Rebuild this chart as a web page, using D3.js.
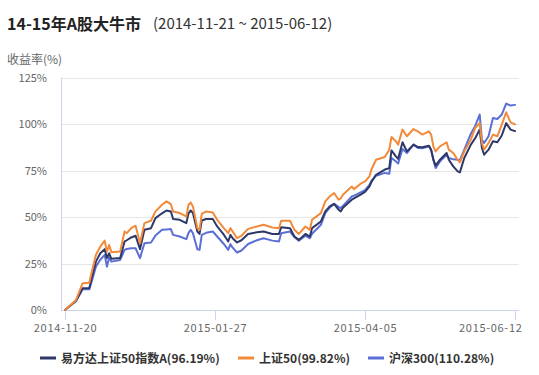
<!DOCTYPE html>
<html>
<head>
<meta charset="utf-8">
<script src="https://cdn.jsdelivr.net/npm/d3@7"></script>
<style>
  html, body { margin: 0; padding: 0; background: #fff; }
  svg { display: block; }
  text { font-family: "Noto Sans CJK SC", "Noto Sans", "DejaVu Sans", sans-serif; }
</style>
</head>
<body>
<svg id="chart" width="539" height="375"></svg>
<script>
const dates = ["2014-11-20","2014-11-25","2014-11-28","2014-12-01","2014-12-02","2014-12-04","2014-12-06","2014-12-08","2014-12-09","2014-12-10",
"2014-12-11","2014-12-15","2014-12-17","2014-12-18","2014-12-20","2014-12-22","2014-12-24","2014-12-26","2014-12-29","2014-12-31",
"2015-01-03","2015-01-05","2015-01-07","2015-01-08","2015-01-11","2015-01-14","2015-01-15","2015-01-16","2015-01-17","2015-01-19",
"2015-01-20","2015-01-21","2015-01-23","2015-01-26","2015-01-28","2015-01-31","2015-02-02","2015-02-03","2015-02-04","2015-02-06",
"2015-02-08","2015-02-11","2015-02-15","2015-02-18","2015-02-22","2015-02-25","2015-02-26","2015-03-02","2015-03-04","2015-03-06",
"2015-03-09","2015-03-11","2015-03-12","2015-03-16","2015-03-18","2015-03-20","2015-03-22","2015-03-24","2015-03-25","2015-03-26",
"2015-03-30","2015-03-31","2015-04-03","2015-04-05","2015-04-07","2015-04-08","2015-04-10","2015-04-14","2015-04-16","2015-04-17",
"2015-04-19","2015-04-20","2015-04-22","2015-04-24","2015-04-27","2015-04-29","2015-05-01","2015-05-04","2015-05-05","2015-05-06",
"2015-05-07","2015-05-09","2015-05-12","2015-05-13","2015-05-15","2015-05-17","2015-05-18","2015-05-20","2015-05-23","2015-05-25",
"2015-05-27","2015-05-28","2015-05-29","2015-05-31","2015-06-02","2015-06-04","2015-06-06","2015-06-08","2015-06-10","2015-06-12"];

const fundA = [0,5.0,11.7,11.7,16.5,26,30.5,32.7,27.9,30.5,
27.5,27.9,36.8,37.5,39,39.9,32.7,43.1,44,49.4,
52,53.5,53,48.9,48.5,46.7,52,53.5,52.1,42.2,
40.9,48.1,48.9,48.9,44.9,40.5,36.8,40.4,38.6,36.3,
37.5,40.9,41.8,42.2,40.9,40.9,44.5,44,39.5,37.7,
40.9,39.5,44,47.6,53,55.7,57.1,54,53,55,
59.3,60,62,63.5,66.4,69,72.7,75.5,76.3,85.8,
82.6,81.2,90.2,85.3,88.9,87.6,87.5,88.3,86,80.8,
77.6,80.8,84.4,80.8,77.2,74.5,74,81.7,88.9,92.5,
97,87.1,83.5,86.2,90.7,90.2,93.8,100.5,97,96.19];

const sz50 = [0,5.4,14.4,14.7,19.8,29.6,34.1,37.3,31.4,35,
31.1,31.4,42.2,41.3,44,45.3,35.9,46.7,48,53,
56.6,58.4,56.9,53,52.1,50.3,56.6,57.8,55.7,44,
43.1,51.7,53,52.4,48.5,44,41.3,44,42.2,38.6,
39.9,43.6,44.9,45.8,44.4,44,48,48,43.1,40.9,
44.9,43.1,48.5,52.1,58.4,61,62.9,59.3,60,62,
66.4,65,67.9,69.1,71.8,75.8,80.8,82.3,86.2,93,
90.7,88.9,97,93.4,97.3,96,94.3,96,94.3,88,
85.3,88,90.2,86.2,84.4,80.8,79.3,85.3,91.6,98,
100.5,89.8,86.2,89.8,94.3,93.4,99.7,106.3,100.9,99.82];

const hs300 = [0,4.8,11.1,11.1,15,23.3,27,29.6,23.3,28.2,
26,26.9,32.3,32.8,33.2,33.2,27.9,35.9,36.3,40,
43.1,43.3,43.5,40.4,39.5,38.1,41.5,43.1,41.3,32.7,
32.3,40.4,41.5,42.2,39.5,35.5,32.3,35.4,33.5,30.9,
32,35.5,37.5,38.6,37.3,36.8,41.3,42.2,39.2,37.3,
39.9,38.6,41,45.8,52.1,55,57.1,55.5,54.8,56,
61,61.5,63.2,64.5,67.3,69.5,72.2,73.7,73.3,81.7,
79.9,78.7,86.6,84.4,88.9,87.1,87,88,86,80.8,
76.3,79.9,83.5,81.7,81,80.8,80.4,86.2,94.8,99.1,
105.1,91.6,89.8,93.4,103.2,102.7,105.1,111,109.9,110.28];

const seriesNames = ["易方达上证50指数A(96.19%)", "上证50(99.82%)", "沪深300(110.28%)"];
const seriesColors = ["#2e3868", "#f28a3a", "#5b6fd6"];
const yTicks = [0, 25, 50, 75, 100, 125];
const xTickLabels = ["2014-11-20", "2015-01-27", "2015-04-05", "2015-06-12"];

const parse = d3.timeParse("%Y-%m-%d");
const svg = d3.select("#chart");

const plotLeft = 61, plotRight = 519, plotTop = 77.5, plotBottom = 310;
const x = d3.scaleTime()
  .domain([parse("2014-11-20"), parse("2015-06-12")])
  .range([65, 515]);
const y = d3.scaleLinear().domain([0, 125]).range([plotBottom, plotTop]);

// Title
svg.append("text").attr("x", 7).attr("y", 30)
  .attr("font-size", 16).attr("font-weight", "bold").attr("fill", "#222")
  .text("14-15年A股大牛市");
svg.append("text").attr("x", 153).attr("y", 29)
  .attr("font-size", 15).attr("fill", "#333")
  .text("(2014-11-21 ~ 2015-06-12)");

// Y axis title
svg.append("text").attr("x", 7).attr("y", 64)
  .attr("font-size", 12).attr("fill", "#666")
  .text("收益率(%)");

// Grid
svg.append("g").selectAll("line").data(yTicks.filter(d => d > 0)).join("line")
  .attr("x1", plotLeft).attr("x2", plotRight)
  .attr("y1", d => Math.round(y(d)) + 0.5).attr("y2", d => Math.round(y(d)) + 0.5)
  .attr("stroke", "#e6e6e6").attr("stroke-width", 1);

// Y axis line
svg.append("line").attr("x1", plotLeft + 0.5).attr("x2", plotLeft + 0.5)
  .attr("y1", plotTop).attr("y2", plotBottom)
  .attr("stroke", "#ccd6eb");

// Y labels
const yAxis = d3.axisLeft(y).tickValues(yTicks).tickSize(0).tickPadding(0).tickFormat(d => d + "%");
const gy = svg.append("g").attr("transform", `translate(47,0)`).call(yAxis);
gy.select(".domain").remove();
gy.selectAll("text").attr("font-size", 11).attr("fill", "#666")
  .attr("font-family", "'DejaVu Sans', sans-serif");

// X axis
svg.append("line").attr("x1", plotLeft).attr("x2", plotRight)
  .attr("y1", plotBottom + 0.5).attr("y2", plotBottom + 0.5)
  .attr("stroke", "#ccd6eb");
const xAxis = d3.axisBottom(x).tickValues(xTickLabels.map(parse)).tickSize(10).tickPadding(4)
  .tickFormat(d3.timeFormat("%Y-%m-%d"));
const gx = svg.append("g").attr("transform", `translate(0,${plotBottom})`).call(xAxis);
gx.select(".domain").remove();
gx.selectAll(".tick line").attr("stroke", "#ccd6eb");
gx.selectAll("text").attr("font-size", 11).attr("fill", "#666")
  .attr("font-family", "'DejaVu Sans', sans-serif").attr("letter-spacing", 0.7);
gx.selectAll(".tick").filter((d, i) => i === xTickLabels.length - 1)
  .select("text").attr("text-anchor", "end").attr("x", 7);

// Lines
const allSeries = [fundA, sz50, hs300];
const line = d3.line().x((d, i) => x(parse(dates[i]))).y(d => y(d)).curve(d3.curveLinear);
const drawOrder = [2, 0, 1];
drawOrder.forEach(k => {
  svg.append("path").datum(allSeries[k])
    .attr("fill", "none").attr("stroke", seriesColors[k])
    .attr("stroke-width", 2).attr("stroke-linejoin", "round").attr("stroke-linecap", "round")
    .attr("d", line);
});

// Legend
const legendX = [40, 238, 368];
const lg = svg.append("g");
seriesNames.forEach((name, i) => {
  lg.append("line").attr("x1", legendX[i]).attr("x2", legendX[i] + 16)
    .attr("y1", 358).attr("y2", 358)
    .attr("stroke", seriesColors[i]).attr("stroke-width", 3);
  lg.append("text").attr("x", legendX[i] + 21).attr("y", 362.5)
    .attr("font-size", 12).attr("font-weight", "bold").attr("fill", "#333")
    .text(name);
});
</script>
</body>
</html>
